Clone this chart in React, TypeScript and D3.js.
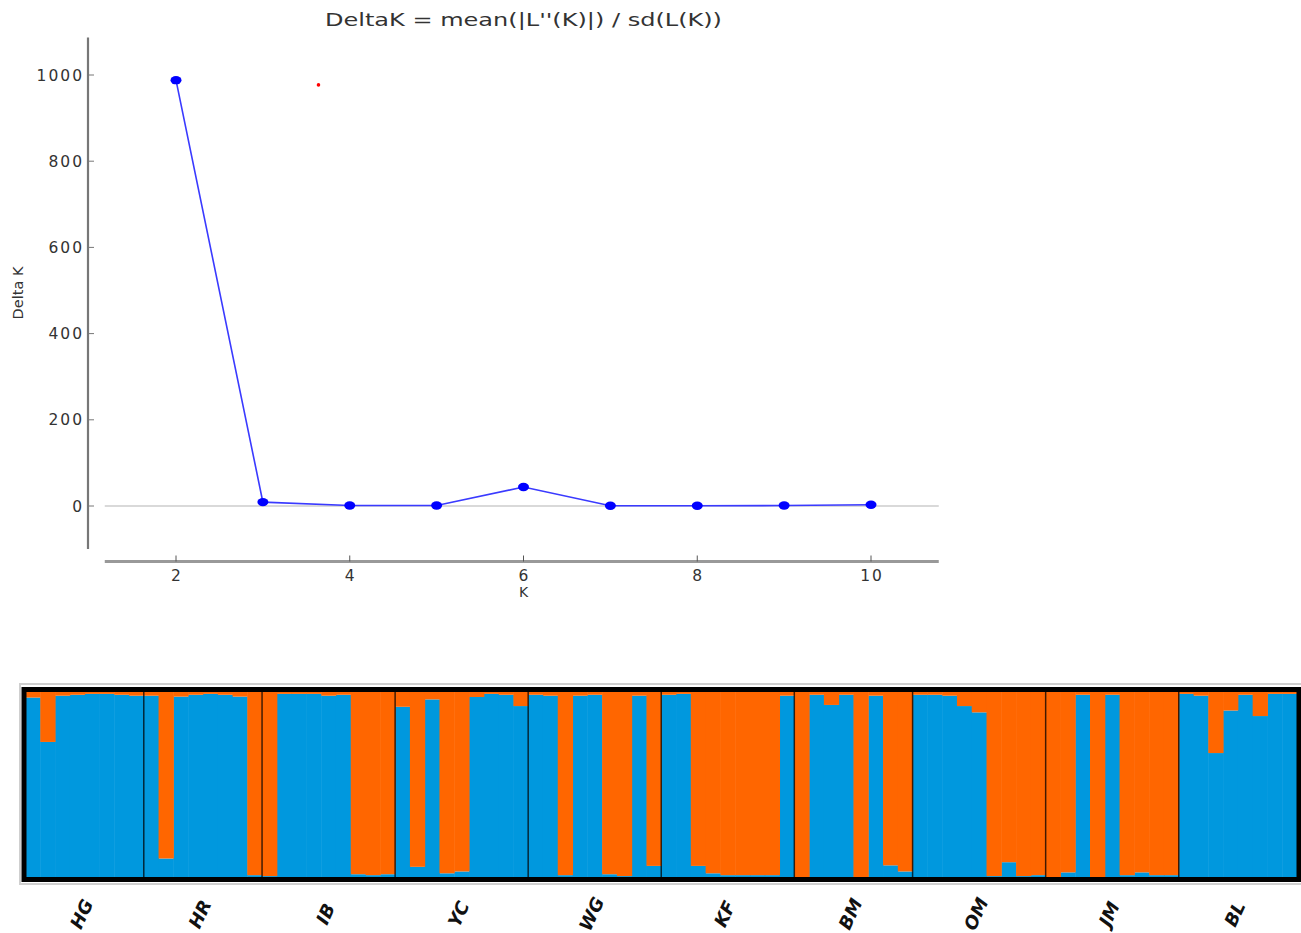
import React, { useEffect, useRef } from 'react';
import * as d3 from 'd3';

// Delta K per K (Evanno plot)
const kValues = [2, 3, 4, 5, 6, 7, 8, 9, 10];
const deltaK = [988, 9, 1, 1, 44, 0.5, 0.5, 1, 3];
const yTicks = [0, 200, 400, 600, 800, 1000];
const xTicks = [2, 4, 6, 8, 10];

// STRUCTURE plot, K = 2
const populations = ['HG', 'HR', 'IB', 'YC', 'WG', 'KF', 'BM', 'OM', 'JM', 'BL'];
const popSizes = [8, 8, 9, 9, 9, 9, 8, 9, 9, 8];
// orange (cluster 2) membership per individual, blue = 1 - orange
const orangeQ = [
  // HG
  0.03, 0.27, 0.02, 0.015, 0.01, 0.01, 0.015, 0.02,
  // HR
  0.02, 0.9, 0.025, 0.015, 0.01, 0.015, 0.025, 0.99,
  // IB
  0.995, 0.01, 0.01, 0.01, 0.02, 0.015, 0.985, 0.99, 0.985,
  // YC
  0.08, 0.945, 0.04, 0.98, 0.97, 0.027, 0.01, 0.015, 0.076,
  // WG
  0.015, 0.02, 0.99, 0.02, 0.015, 0.985, 0.995, 0.02, 0.94,
  // KF
  0.015, 0.01, 0.94, 0.98, 0.99, 0.99, 0.99, 0.99, 0.02,
  // BM
  1.0, 0.015, 0.07, 0.015, 1.0, 0.02, 0.937, 0.97,
  // OM
  0.015, 0.015, 0.02, 0.076, 0.11, 0.995, 0.92, 0.995, 0.99,
  // JM
  1.0, 0.975, 0.015, 1.0, 0.015, 0.99, 0.975, 0.99, 0.99,
  // BL
  0.01, 0.02, 0.33, 0.1, 0.015, 0.13, 0.01, 0.01,
];

const BLUE = '#0098de';
const ORANGE = '#ff6600';
const FONT = "'DejaVu Sans', sans-serif";

const App = () => {
  const svgRef = useRef<SVGSVGElement | null>(null);

  useEffect(() => {
    const svg = d3.select(svgRef.current);
    svg.selectAll('*').remove();

    // ---------- Delta K line chart ----------
    const x = d3.scaleLinear().domain([2, 10]).range([176, 871]);
    const y = d3.scaleLinear().domain([0, 1000]).range([506, 75]);
    const xMin = 1.18, xMax = 10.78;
    const yMin = -100, yMax = 1087;

    const top = svg.append('g');

    top.append('text')
      .attr('x', 325).attr('y', 26)
      .attr('textLength', 397)
      .attr('lengthAdjust', 'spacingAndGlyphs')
      .style('font-family', FONT).style('font-size', '18px').style('fill', '#333')
      .text("DeltaK = mean(|L''(K)|) / sd(L(K))");

    // zero reference line
    top.append('line')
      .attr('x1', x(xMin)).attr('x2', x(xMax))
      .attr('y1', y(0)).attr('y2', y(0))
      .attr('stroke', '#d9d9d9').attr('stroke-width', 2);

    // y axis
    top.append('line')
      .attr('x1', 88).attr('x2', 88)
      .attr('y1', y(yMax)).attr('y2', y(yMin))
      .attr('stroke', '#777').attr('stroke-width', 2.2);
    const yt = top.selectAll('.ytick').data(yTicks).enter().append('g')
      .attr('transform', d => `translate(88,${y(d)})`);
    yt.append('line').attr('x1', 0).attr('x2', 6).attr('stroke', '#777').attr('stroke-width', 1);
    yt.append('text')
      .attr('x', -4).attr('dy', '0.36em')
      .attr('text-anchor', 'end')
      .style('font-family', FONT).style('font-size', '15.5px').style('fill', '#333')
      .style('letter-spacing', '2px')
      .text(d => d);

    top.append('text')
      .attr('transform', 'translate(23,293) rotate(-90)')
      .attr('text-anchor', 'middle')
      .style('font-family', FONT).style('font-size', '14.5px').style('fill', '#333')
      .text('Delta K');

    // x axis
    const axY = 561.5;
    top.append('line')
      .attr('x1', x(xMin)).attr('x2', x(xMax))
      .attr('y1', axY).attr('y2', axY)
      .attr('stroke', '#999').attr('stroke-width', 3);
    const xt = top.selectAll('.xtick').data(xTicks).enter().append('g')
      .attr('transform', d => `translate(${x(d)},${axY})`);
    xt.append('line').attr('y1', 0).attr('y2', -6).attr('stroke', '#555').attr('stroke-width', 1);
    xt.append('text')
      .attr('x', 1).attr('y', 19)
      .attr('text-anchor', 'middle')
      .style('font-family', FONT).style('font-size', '15.5px').style('fill', '#333')
      .style('letter-spacing', '2px')
      .text(d => d);
    top.append('text')
      .attr('x', x(6)).attr('y', 597)
      .attr('text-anchor', 'middle')
      .style('font-family', FONT).style('font-size', '14px').style('fill', '#333')
      .text('K');

    const pts = kValues.map((k, i) => ({ k, v: deltaK[i] }));
    top.append('path')
      .datum(pts)
      .attr('fill', 'none')
      .attr('stroke', '#3a3aff')
      .attr('stroke-width', 1.6)
      .attr('d', d3.line<{ k: number; v: number }>().x(d => x(d.k)).y(d => y(d.v)));
    top.selectAll('.pt').data(pts).enter().append('ellipse')
      .attr('cx', d => x(d.k)).attr('cy', d => y(d.v))
      .attr('rx', 5.5).attr('ry', 4.2)
      .attr('fill', '#0000ff');

    // stray red marker
    top.append('circle')
      .attr('cx', x(3.64)).attr('cy', y(977))
      .attr('r', 1.8).attr('fill', '#ff0000');

    // ---------- STRUCTURE bar plot ----------
    const left = 25.5, right = 1297, pTop = 692, pBot = 877;
    const ids = d3.range(orangeQ.length);
    const bx = d3.scaleBand<number>().domain(ids).range([left, right]).padding(0);
    const by = d3.scaleLinear().domain([0, 1]).range([pTop, pBot]);

    const bottom = svg.append('g');

    // soft outer shadow
    bottom.append('rect')
      .attr('x', 20).attr('y', 684).attr('width', 1282).attr('height', 200)
      .attr('fill', 'none').attr('stroke', '#cfcfcf').attr('stroke-width', 2);

    bottom.selectAll('.blue').data(ids).enter().append('rect')
      .attr('x', d => bx(d)!)
      .attr('width', bx.bandwidth() + 0.5)
      .attr('y', d => by(orangeQ[d]))
      .attr('height', d => by(1) - by(orangeQ[d]))
      .attr('fill', BLUE);
    bottom.selectAll('.orange').data(ids).enter().append('rect')
      .attr('x', d => bx(d)!)
      .attr('width', bx.bandwidth() + 0.5)
      .attr('y', by(0))
      .attr('height', d => by(orangeQ[d]) - by(0))
      .attr('fill', ORANGE);

    // population boundaries and labels
    const starts: number[] = [];
    popSizes.reduce((acc, n) => { starts.push(acc); return acc + n; }, 0);
    bottom.selectAll('.div').data(starts.slice(1)).enter().append('line')
      .attr('x1', d => bx(d)!).attr('x2', d => bx(d)!)
      .attr('y1', pTop).attr('y2', pBot)
      .attr('stroke', '#000').attr('stroke-opacity', 0.75).attr('stroke-width', 1.5);

    bottom.append('rect')
      .attr('x', 24).attr('y', 689.5).attr('width', 1275).attr('height', 190)
      .attr('fill', 'none').attr('stroke', '#000').attr('stroke-width', 5);

    bottom.selectAll('.pop').data(populations).enter().append('text')
      .attr('transform', (d, i) => {
        const cx = (bx(starts[i])! + bx(starts[i] + popSizes[i] - 1)! + bx.bandwidth()) / 2;
        return `translate(${cx - 3},${914}) rotate(-65)`;
      })
      .attr('text-anchor', 'middle')
      .attr('dy', '0.35em')
      .style('font-family', FONT).style('font-size', '18px')
      .style('font-weight', 'bold').style('font-style', 'italic')
      .style('fill', '#111')
      .text(d => d);
  }, []);

  return (
    <svg
      ref={svgRef}
      width={1301}
      height={933}
      style={{ position: 'absolute', left: 0, top: 0, background: '#fff' }}
    />
  );
};

export default App;
